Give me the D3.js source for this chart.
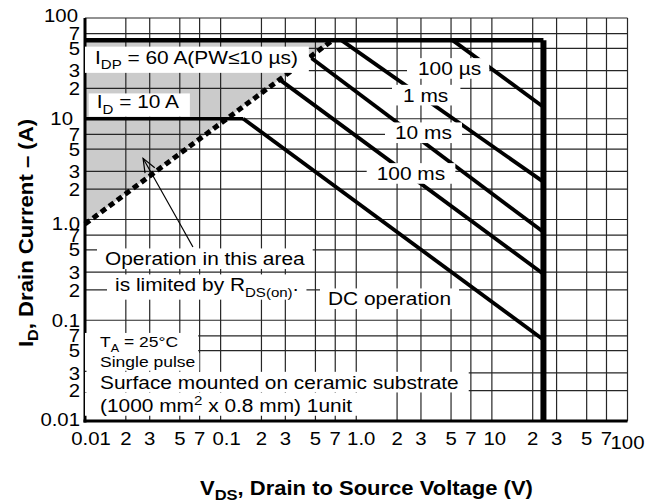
<!DOCTYPE html>
<html>
<head>
<meta charset="utf-8">
<script src="https://cdn.jsdelivr.net/npm/d3@7"></script>
<style>
body { margin: 0; background: #fff; }
text { font-family: "Liberation Sans", Arial, Helvetica, sans-serif; fill: #000; }
</style>
</head>
<body>
<svg id="chart" width="660" height="504"></svg>
<script>
// grid / tick values (1,2,3,5,7 per decade)
var gridValues = [0.01,0.02,0.03,0.05,0.07,0.1,0.2,0.3,0.5,0.7,1,2,3,5,7,10,20,30,50,70,100];
var xTickLabels = ["0.01","2","3","5","7","0.1","2","3","5","7","1.0","2","3","5","7","10","2","3","5","7","100"];
var yTickLabels = ["0.01","2","3","5","7","0.1","2","3","5","7","1.0","2","3","5","7","10","2","3","5","7","100"];

// limit lines
var idpV = [0.01, 24],   idpI = [60, 60];      // pulsed drain current
var idV = [0.01, 0.147], idI = [10, 10];       // DC drain current
var vdssV = [24, 24],    vdssI = [60, 0.01];   // VDSS
var rdsV = [0.01, 0.667], rdsI = [0.9, 60];    // RDS(on) limit
var areaV = [0.01, 0.667, 0.01], areaI = [60, 60, 0.9];

// pulse width lines
var pulseNames  = ["100 µs", "1 ms", "10 ms", "100 ms", "DC"];
var pulseStartV = [5.15, 0.78, 0.469, 0.274, 0.147];
var pulseStartI = [60, 60, 39.8, 24.3, 10];
var pulseEndV   = [24, 24, 24, 24, 24];
var pulseEndI   = [13.1, 2.36, 0.75, 0.288, 0.064];

var svg = d3.select("#chart");
var sx = 1.13; // the type in the original is a bit wide

var x = d3.scaleLog().domain([0.01, 100]).range([85, 627.5]);
var y = d3.scaleLog().domain([0.01, 100]).range([421, 18]);
var line = d3.line().x(function(d){ return x(d[0]); }).y(function(d){ return y(d[1]); });

// shaded RDS(on) area
svg.append("path")
  .attr("d", line(d3.zip(areaV, areaI)) + "Z")
  .attr("fill", "#cbcbcb");

// grid
svg.append("g").selectAll("line").data(gridValues).enter().append("line")
  .attr("x1", function(d){ return x(d); }).attr("x2", function(d){ return x(d); })
  .attr("y1", y(0.01)).attr("y2", y(100))
  .attr("stroke", "#262626").attr("stroke-width", 1.2);
svg.append("g").selectAll("line").data(gridValues).enter().append("line")
  .attr("y1", function(d){ return y(d); }).attr("y2", function(d){ return y(d); })
  .attr("x1", x(0.01)).attr("x2", x(100))
  .attr("stroke", "#262626").attr("stroke-width", 1.2);

// limit lines
var lines = svg.append("g").attr("fill", "none").attr("stroke", "#000");
lines.append("path").attr("d", line(d3.zip(idpV, idpI))).attr("stroke-width", 4.5);
lines.append("path").attr("d", line(d3.zip(idV, idI))).attr("stroke-width", 3.5);
for (var i = 0; i < pulseNames.length; i++) {
  lines.append("path")
    .attr("d", line([[pulseStartV[i], pulseStartI[i]], [pulseEndV[i], pulseEndI[i]]]))
    .attr("stroke-width", 3.8);
}
lines.append("path").attr("d", line(d3.zip(vdssV, vdssI))).attr("stroke-width", 6);
lines.append("path").attr("d", line(d3.zip(rdsV, rdsI)))
  .attr("stroke-width", 5).attr("stroke-dasharray", "6,4");

// axes (left & bottom heavy)
svg.append("line").attr("x1", x(0.01)).attr("x2", x(0.01)).attr("y1", y(100)).attr("y2", y(0.01) + 1.5)
  .attr("stroke", "#000").attr("stroke-width", 3);
svg.append("line").attr("x1", x(0.01) - 1.5).attr("x2", x(100)).attr("y1", y(0.01)).attr("y2", y(0.01))
  .attr("stroke", "#000").attr("stroke-width", 3);

// tick labels
var xLabelShift = {"0.01": 6, "0.1": 6, "1.0": 5, "10": 3};
svg.append("g").selectAll("text").data(gridValues).enter().append("text")
  .attr("transform", function(d, i) {
    var lab = xTickLabels[i];
    var px = x(d) + (xLabelShift[lab] || 0);
    var py = lab === "100" ? 448.6 : 445.3;
    return "translate(" + px + "," + py + ") scale(1.1,1)";
  })
  .attr("text-anchor", "middle").attr("font-size", 18.5)
  .text(function(d, i){ return xTickLabels[i]; });

var yLabelRight = {"10": 73, "100": 78};
var yLabelShift = {"100": -3, "1.0": 4, "0.01": -2};
svg.append("g").selectAll("text").data(gridValues).enter().append("text")
  .attr("transform", function(d, i) {
    var lab = yTickLabels[i];
    var px = yLabelRight[lab] || 80;
    var py = y(d) + 6.6 + (yLabelShift[lab] || 0);
    return "translate(" + px + "," + py + ") scale(1.1,1)";
  })
  .attr("text-anchor", "end").attr("font-size", 18.5)
  .text(function(d, i){ return yTickLabels[i]; });

// annotations with white backing boxes
var notes = svg.append("g");
function note(px, py, segs, size, pad) {
  var g = notes.append("g").attr("transform", "translate(" + px + "," + py + ") scale(" + sx + ",1)");
  var bg = g.append("rect").attr("fill", "#fff");
  var t = g.append("text").attr("font-size", size);
  var shift = 0;
  segs.forEach(function(s) {
    var want = s[0] === "sub" ? size * 0.3 : (s[0] === "sup" ? -size * 0.38 : 0);
    t.append("tspan")
      .attr("dy", want - shift)
      .attr("font-size", s[0] === "n" ? size : size * 0.72)
      .text(s[1]);
    shift = want;
  });
  var b = t.node().getBBox();
  bg.attr("x", b.x - pad[0] / sx).attr("y", b.y - pad[2])
    .attr("width", b.width + (pad[0] + pad[1]) / sx).attr("height", b.height + pad[2] + pad[3]);
}

note(95, 63.5, [["n", "I"], ["sub", "DP"], ["n", " = 60 A(PW≤10 µs)"]], 18.5, [10, 11, 0, 1]);
note(96.7, 108.3, [["n", "I"], ["sub", "D"], ["n", " = 10 A"]], 18.5, [8, 10, -2, 0]);
note(418, 75, [["n", pulseNames[0]]], 18.5, [11, 8, 0, 0]);
note(403, 101.7, [["n", pulseNames[1]]], 18.5, [11, 12, 0, 0]);
note(395, 139.3, [["n", pulseNames[2]]], 18.5, [10, 10, 0, 0]);
note(376.7, 180, [["n", pulseNames[3]]], 18.5, [10, 10, 0, 0]);
note(328, 305.3, [["n", pulseNames[4] + " operation"]], 18.5, [8, 8, 0, 0]);
note(105, 265.3, [["n", "Operation in this area"]], 18.5, [8, 8, 0, 0]);
note(115, 291.3, [["n", "is limited by R"], ["sub", "DS(on)"], ["n", "."]], 18.5, [8, 8, 0, 0]);
note(100, 347, [["n", "T"], ["sub", "A"], ["n", " = 25°C"]], 15.5, [15, 20, 0, 0]);
note(100, 367, [["n", "Single pulse"]], 15.5, [15, 4, 0, 0]);
note(100, 388.7, [["n", "Surface mounted on ceramic substrate"]], 18.5, [15, 10, 0, 0]);
note(100, 412, [["n", "(1000 mm"], ["sup", "2"], ["n", " x 0.8 mm) 1unit"]], 18.5, [15, 8, 0, 0]);

// arrow to the shaded area
var tail = [0.0625, 0.533], tip = [0.0268, 4.05];
var ax0 = x(tail[0]), ay0 = y(tail[1]), ax1 = x(tip[0]), ay1 = y(tip[1]);
var ang = Math.atan2(ay0 - ay1, ax0 - ax1);
svg.append("line").attr("x1", ax0).attr("y1", ay0).attr("x2", ax1).attr("y2", ay1)
  .attr("stroke", "#000").attr("stroke-width", 1.2);
svg.append("path")
  .attr("d", "M" + (ax1 + 15 * Math.cos(ang - 0.38)) + "," + (ay1 + 15 * Math.sin(ang - 0.38)) +
             "L" + ax1 + "," + ay1 +
             "L" + (ax1 + 15 * Math.cos(ang + 0.38)) + "," + (ay1 + 15 * Math.sin(ang + 0.38)))
  .attr("fill", "none").attr("stroke", "#000").attr("stroke-width", 1.2);

// axis titles
var xt = svg.append("text").attr("transform", "translate(200,495) scale(1.1,1)")
  .attr("font-size", 20).attr("font-weight", "bold");
xt.append("tspan").text("V");
xt.append("tspan").attr("dy", 5).attr("font-size", 15).text("DS");
xt.append("tspan").attr("dy", -5).text(", Drain to Source Voltage (V)");

var yt = svg.append("text").attr("transform", "translate(33,233) rotate(-90) scale(1.08,1)")
  .attr("text-anchor", "middle").attr("font-size", 20.5).attr("font-weight", "bold");
yt.append("tspan").text("I");
yt.append("tspan").attr("dy", 5).attr("font-size", 15).text("D");
yt.append("tspan").attr("dy", -5).text(", Drain Current – (A)");
</script>
</body>
</html>
